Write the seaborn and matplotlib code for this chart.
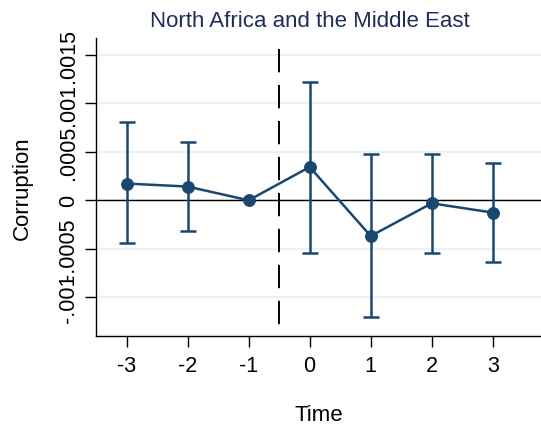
import matplotlib
matplotlib.use("Agg")
import matplotlib.pyplot as plt
import seaborn as sns
import pandas as pd

# Event-study estimates and 95% confidence bounds
time = [-3, -2, -1, 0, 1, 2, 3]
coef = [0.000173, 0.000142, 0.0, 0.000344, -0.000369, -0.000031, -0.000127]
ci_low = [-0.000438, -0.000321, 0.0, -0.000542, -0.001210, -0.000542, -0.000634]
ci_high = [0.000804, 0.000597, 0.0, 0.001225, 0.000480, 0.000476, 0.000383]

ytick_vals = [-0.001, -0.0005, 0, 0.0005, 0.001, 0.0015]
ytick_labels = ["-.001", "-.0005", "0", ".0005", ".001", ".0015"]

sns.set_style("ticks")
plt.rcParams["font.family"] = ["Liberation Sans", "DejaVu Sans"]
plt.rcParams["text.color"] = "black"
plt.rcParams["axes.labelcolor"] = "black"
plt.rcParams["xtick.color"] = "black"
plt.rcParams["ytick.color"] = "black"

navy = "#1a476f"
df = pd.DataFrame({"Time": time, "coef": coef, "lo": ci_low, "hi": ci_high})

fig = plt.figure(figsize=(5.41, 4.27), dpi=100)
ax = fig.add_axes([0.1775, 0.2115, 0.8225, 0.6965])

# light horizontal grid
for v in ytick_vals:
    ax.axhline(v, color="#eaf2f3", lw=1.6, zorder=0)

# confidence intervals
sub = df[df["Time"] != -1]
ax.errorbar(sub["Time"], sub["coef"],
            yerr=[sub["coef"] - sub["lo"], sub["hi"] - sub["coef"]],
            fmt="none", ecolor=navy, elinewidth=1.8, capsize=5.5, capthick=1.8, zorder=2)

# point estimates connected
sns.lineplot(data=df, x="Time", y="coef", ax=ax, color=navy, lw=1.8,
             marker="o", markersize=8.5, markeredgecolor=navy, zorder=3)

ax.axhline(0, color="black", lw=1.0, zorder=1)

ymin, ymax = -0.001398, 0.001673
ax.set_ylim(ymin, ymax)
ax.set_xlim(-3.5, 3.79)
# reference line between pre- and post-periods
ax.plot([-0.5, -0.5], [0.00156, ymin], color="black", lw=1.4,
        dashes=(12, 6.5), zorder=1)

ax.set_xticks(time)
ax.set_xticklabels([str(t) for t in time])
ax.set_yticks(ytick_vals)
ax.set_yticklabels(ytick_labels, rotation=90, va="center")

ax.tick_params(axis="both", direction="out", length=8, width=1.0,
               labelsize=15.5, color="black", pad=6)
ax.tick_params(axis="y", pad=4)

for s in ["top", "right"]:
    ax.spines[s].set_visible(False)
for s in ["left", "bottom"]:
    ax.spines[s].set_linewidth(1.0)
    ax.spines[s].set_color("black")

ax.set_xlabel("Time", fontsize=16, labelpad=20)
ax.set_ylabel("Corruption", fontsize=16, labelpad=18)
fig.text(0.573, 0.95, "North Africa and the Middle East", ha="center", va="center",
         fontsize=16, color="#1e2d5a")

fig.savefig("out.png", dpi=100)
